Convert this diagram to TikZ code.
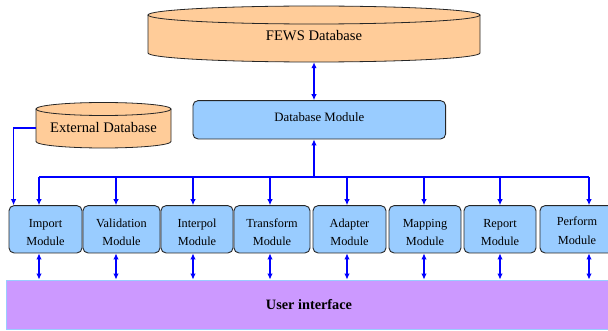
\documentclass[tikz,border=0pt]{standalone}
\usepackage{fontspec}
\setmainfont{Liberation Serif}
\usetikzlibrary{arrows.meta}
\definecolor{dbfill}{HTML}{FFCC99}
\definecolor{modfill}{HTML}{99CCFF}
\definecolor{uifill}{HTML}{CC99FF}
\definecolor{arrblue}{HTML}{0000FF}
\tikzset{
  modbox/.style={draw=black!85, line width=0.9pt, fill=modfill, rounded corners=5pt,
    inner sep=0pt, minimum height=47.3pt},
  modtext/.style={inner sep=0pt, align=center, font=\fontsize{12.3}{18.5}\selectfont},
  conn/.style={draw=arrblue, line width=1.2pt},
  tip/.style={-{Latex[length=6pt,width=5.5pt]}},
  btip/.style={{Latex[length=6pt,width=5.5pt]}-{Latex[length=6pt,width=5.5pt]}},
  cylline/.style={draw=black!85, line width=0.8pt},
  dbtext/.style={inner sep=0pt, font=\fontsize{14.6}{17}\selectfont}
}
\begin{document}
\begin{tikzpicture}[x=1pt,y=1pt]
\useasboundingbox (0,0) rectangle (608,330);
% FEWS database cylinder
\fill[dbfill] (148,315) -- (148,277) arc[start angle=180,end angle=360,x radius=166,y radius=9] -- (480,315) -- cycle;
\fill[dbfill] (314,315) ellipse[x radius=166,y radius=9];
\draw[cylline] (148,315) -- (148,277) arc[start angle=180,end angle=360,x radius=166,y radius=9] -- (480,315);
\draw[cylline] (314,315) ellipse[x radius=166,y radius=9];
\node[minimum width=332pt, minimum height=56pt, inner sep=0pt] (fews) at (314,296) {};
\node[dbtext] (fewst) at (314,294.8) {FEWS Database};
% External database cylinder
\fill[dbfill] (36,221) -- (36,188.5) arc[start angle=180,end angle=360,x radius=67.5,y radius=6.5] -- (171,221) -- cycle;
\fill[dbfill] (103.5,221) ellipse[x radius=67.5,y radius=6.5];
\draw[cylline] (36,221) -- (36,188.5) arc[start angle=180,end angle=360,x radius=67.5,y radius=6.5] -- (171,221);
\draw[cylline] (103.5,221) ellipse[x radius=67.5,y radius=6.5];
\node[dbtext, minimum width=135pt] (ext) at (103.5,202) {External Database};
% Database module
\node[modbox, minimum width=252.7pt, minimum height=38.3pt] (dbm) at (319.3,210.2) {};
\node[inner sep=0pt, font=\fontsize{12.8}{15}\selectfont] (dbmt) at (319.3,212.6) {Database Module};
% Modules
\node[modbox, minimum width=73pt] (m1) at (45.5,100.7) {};
\node[modbox, minimum width=77pt] (m2) at (121.5,100.7) {};
\node[modbox, minimum width=72pt] (m3) at (197,100.7) {};
\node[modbox, minimum width=76pt] (m4) at (272,100.7) {};
\node[modbox, minimum width=73pt] (m5) at (349.5,100.7) {};
\node[modbox, minimum width=72pt] (m6) at (425,100.7) {};
\node[modbox, minimum width=72pt] (m7) at (500,100.7) {};
\node[modbox, minimum width=74pt] (m8) at (577,100.7) {};
\node[modtext] (m1t) at ([yshift=-3pt]m1.center) {Import\\Module};
\node[modtext] (m2t) at ([yshift=-3pt]m2.center) {Validation\\Module};
\node[modtext] (m3t) at ([yshift=-3pt]m3.center) {Interpol\\Module};
\node[modtext] (m4t) at ([yshift=-3pt]m4.center) {Transform\\Module};
\node[modtext] (m5t) at ([yshift=-3pt]m5.center) {Adapter\\Module};
\node[modtext] (m6t) at ([yshift=-3pt]m6.center) {Mapping\\Module};
\node[modtext] (m7t) at ([yshift=-3pt]m7.center) {Report\\Module};
\node[modtext] (m8t) at ([yshift=-1.5pt]m8.center) {Perform\\Module};
% User interface
\node[draw=modfill, line width=0.8pt, fill=uifill, minimum width=606pt, minimum height=49pt, inner sep=0pt,
  font=\bfseries\fontsize{14.3}{17}\selectfont] (ui) at (309,25.5) {User interface};
% Connectors
\draw[conn, btip] (fews.south) -- (fews.south |- dbm.north);
\coordinate (bus) at (314,153);
\draw[conn, tip] (bus) -- (bus |- dbm.south);
\coordinate (t1) at (39,153);
\coordinate (t2) at (116,153);
\coordinate (t3) at (193,153);
\coordinate (t4) at (270,153);
\coordinate (t5) at (347,153);
\coordinate (t6) at (424,153);
\coordinate (t7) at (500,153);
\coordinate (t8) at (589,153);
\draw[conn] (t1) -- (t8);
\foreach \i in {1,...,8}{
  \draw[conn, tip] (t\i) -- (t\i |- m\i.north);
  \draw[conn, btip] (t\i |- m\i.south) -- (t\i |- ui.north);
}
\draw[conn, tip] (ext.west) -| ([xshift=5pt]m1.north west);
\end{tikzpicture}
\end{document}
